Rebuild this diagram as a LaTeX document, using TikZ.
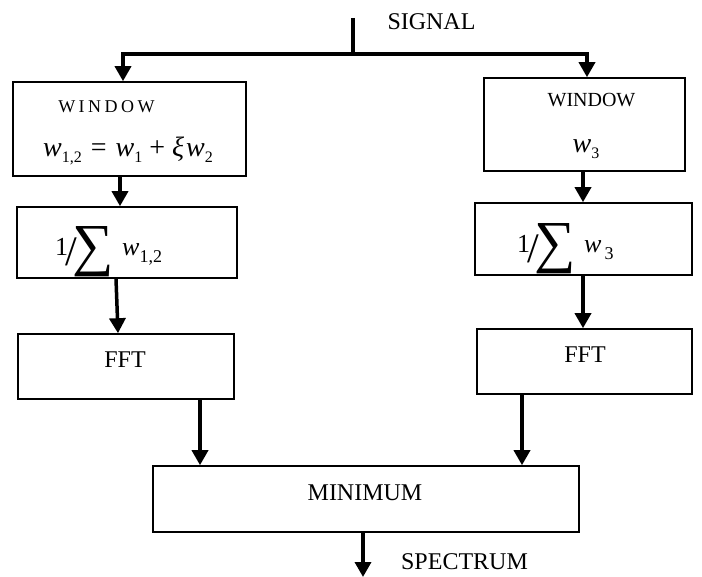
\documentclass[tikz,border=0pt]{standalone}
\usepackage{fontspec}
\usepackage{graphicx}
\setmainfont{Liberation Serif}
\usetikzlibrary{arrows.meta}

\newcommand\fs[1]{\fontsize{#1}{#1}\selectfont}
\newcommand\vw{\textit{w}}
\newcommand\lowsub[1]{\raisebox{-6pt}{\fs{16}#1}}
\newcommand\lowsubL[1]{\raisebox{-7pt}{\fs{18}#1}}
% large "1/sum" prefix used in the normalisation blocks
\newcommand\invsum{1\kern-3pt\raisebox{-10pt}{\fs{42}/}\kern-4pt\raisebox{-9pt}{\fs{58}∑}}

\begin{document}
\begin{tikzpicture}[x=1pt,y=-1pt,
  box/.style={draw, line width=1.6pt, inner sep=0pt},
  flow/.style={line width=3.5pt, line join=miter, -{Triangle[length=15pt,width=16pt]}},
  bus/.style={line width=3.5pt},
  lbl/.style={inner sep=0pt, font=\fs{24}}]
\useasboundingbox (0,0) rectangle (702,577);

% processing blocks
\node[box, minimum width=233pt, minimum height=94pt] (W1) at (129.5,129) {};
\node[box, minimum width=201pt, minimum height=93pt] (W2) at (584.5,124.5) {};
\node[box, minimum width=220pt, minimum height=71pt] (S1) at (127,242.5) {};
\node[box, minimum width=217pt, minimum height=72pt] (S2) at (583.5,239) {};
\node[box, minimum width=216pt, minimum height=65pt] (F1) at (126,366.5) {};
\node[box, minimum width=215pt, minimum height=65pt] (F2) at (584.5,361.5) {};
\node[box, minimum width=426pt, minimum height=66pt] (M) at (366,499) {};

% block texts
\node[lbl, font=\fs{18}] (W1t) at (106.5,107) {W\kern3.5pt I\kern3.5pt N\kern3.5pt D\kern3.5pt O\kern3.5pt W};
\node[lbl, font=\fs{28}, anchor=base] (W1f) at (128,157)
  {\vw\lowsub{1,2}\kern9pt=\kern9pt\vw\lowsub{1}\kern7pt+\kern7pt\textit{ξ}\kern2pt\vw\lowsub{2}};
\node[lbl, font=\fs{20}] (W2t) at (591.5,100) {WINDOW};
\node[lbl, font=\fs{28}, anchor=base] (W2f) at (586,153) {\vw\lowsub{3}};
\node[lbl, font=\fs{26}, anchor=base west] (S1t) at (55,256)
  {\invsum\kern8pt\vw\lowsubL{1,2}};
\node[lbl, font=\fs{26}, anchor=base west] (S2t) at (517,253)
  {\invsum\kern8pt\vw\kern3pt\lowsubL{3}};
\node[lbl] (F1t) at (125,360) {FFT};
\node[lbl] (F2t) at (585,355) {FFT};
\node[lbl] (Mt) at (365,493) {MINIMUM};
\node[lbl] (sig) at (431.5,22) {SIGNAL};
\node[lbl] (spec) at (464.5,562) {SPECTRUM};

% connector columns and ends
\coordinate (sigtop) at (353,18);
\coordinate (split) at (353,54);
\coordinate (colA) at (123,0);
\coordinate (colB) at (587,0);
\coordinate (colC) at (120,0);
\coordinate (colD) at (583,0);
\coordinate (colE) at (116,0);
\coordinate (colF) at (118,0);
\coordinate (colG) at (200,0);
\coordinate (colH) at (522,0);
\coordinate (colI) at (363,0);
\coordinate (out) at (363,577);

% signal distribution
\draw[bus] (sigtop) -- (split);
\draw[flow] (split) -| (W1.north -| colA);
\draw[flow] (split) -| (W2.north -| colB);

% chains
\draw[flow] (W1.south -| colC) -- (S1.north -| colC);
\draw[flow] (W2.south -| colD) -- (S2.north -| colD);
\draw[flow] (S1.south -| colE) -- (F1.north -| colF);
\draw[flow] (S2.south -| colD) -- (F2.north -| colD);
\draw[flow] (F1.south -| colG) -- (M.north -| colG);
\draw[flow] (F2.south -| colH) -- (M.north -| colH);
\draw[flow] (M.south -| colI) -- (out);
\end{tikzpicture}
\end{document}
